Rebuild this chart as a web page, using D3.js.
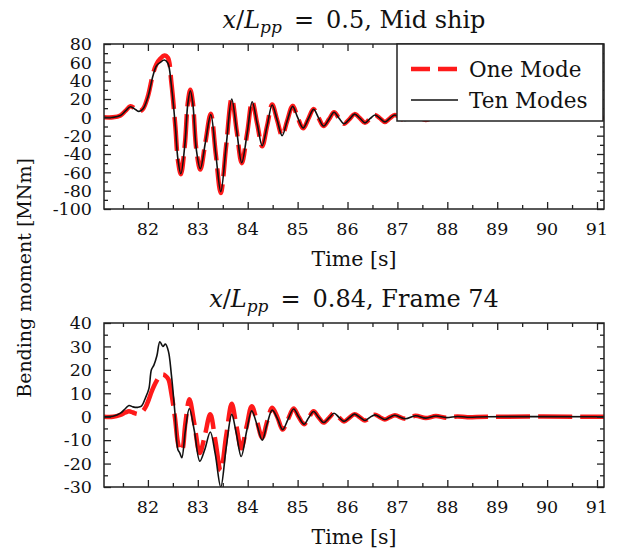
<!DOCTYPE html>
<html>
<head>
<meta charset="utf-8">
<script src="https://cdn.jsdelivr.net/npm/d3@7"></script>
<style>
  body { margin: 0; background: #fff; }
  svg { display: block; }
  text { font-family: "DejaVu Serif", serif; fill: #111; }
</style>
</head>
<body>
<script>
//Data
// mid ship panel: time [s], one mode, ten modes [MNm]
const midTime = [81.12, 81.3, 81.45, 81.55, 81.65, 81.75, 81.82, 81.9, 82.0, 82.1, 82.17, 82.25, 82.33, 82.4, 82.47,
  82.55, 82.6, 82.66, 82.74, 82.8, 82.85, 82.9, 82.97, 83.05, 83.15, 83.26, 83.36, 83.46, 83.57, 83.68,
  83.78, 83.88, 83.99, 84.09, 84.19, 84.29, 84.39, 84.49, 84.59, 84.69, 84.79, 84.9, 85.0, 85.11, 85.22,
  85.32, 85.42, 85.52, 85.63, 85.73, 85.83, 85.93, 86.04, 86.14, 86.25, 86.35, 86.45, 86.55, 86.65, 86.75,
  86.85, 86.95, 87.16, 87.36, 87.57, 87.77, 87.98, 88.2, 88.5, 89.0, 90.0, 91.14];
const midOne = [0, 0, 2, 7, 12, 9, 6.5, 9, 23, 47, 58, 64, 67.5, 65, 38,
  -10, -46, -62, -30, 16, 30, 16, -35, -57, -28, 4, -40, -82.5, -30, 21,
  -15, -50, -17, 17.5, -7, -31.5, -9, 14, -3, -20, -4, 12.5, 0, -12, -1,
  9, -0.5, -9.5, -2, 5.5, -1, -7, -2, 3.5, -1, -6, -1.5, 2.5, -1, -5,
  -1, 2.5, -3.5, 1.5, -3, 1, -2.5, 0.5, -1.5, -1, -0.5, -0.5];
const midTen = [0, 0, 2, 7, 11.5, 8.5, 6.5, 9, 22, 45, 56, 60, 62.5, 59, 35,
  -10, -45, -61.5, -30, 15, 29, 15, -35, -56, -28, 3, -40, -81, -30, 20,
  -15, -49.5, -17, 17, -7, -31, -9, 13.5, -3, -20, -4, 12, 0, -11.5, -1,
  8.7, -0.5, -9.5, -2, 5.5, -1, -7, -2, 3.5, -1, -6, -1.5, 2.5, -1, -5,
  -1, 2.5, -3.5, 1.5, -3, 1, -2.5, 0.5, -1.5, -1, -0.5, -0.5];

// frame 74 panel
const frTime = [81.12, 81.3, 81.45, 81.55, 81.62, 81.7, 81.8, 81.87, 81.95, 82.02, 82.07, 82.12, 82.18, 82.24, 82.3,
  82.35, 82.41, 82.47, 82.54, 82.6, 82.64, 82.68, 82.75, 82.83, 82.93, 83.04, 83.14, 83.25, 83.35, 83.46,
  83.57, 83.68, 83.77, 83.87, 83.98, 84.08, 84.18, 84.29, 84.39, 84.49, 84.6, 84.7, 84.81, 84.92, 85.02,
  85.13, 85.22, 85.32, 85.42, 85.52, 85.63, 85.73, 85.83, 85.93, 86.04, 86.14, 86.25, 86.35, 86.45, 86.55,
  86.65, 86.75, 86.85, 86.95, 87.16, 87.36, 87.57, 87.77, 87.98, 88.2, 88.4, 88.8, 91.14];
const frOne = [0, 0, 0.8, 1.8, 2.3, 1.8, 1.2, 1.8, 4, 7.5, 10.5, 13, 15.5, 17.5, 18,
  17.5, 16, 10, 0, -11, -14, -14.5, -3, 7.5, -3, -15.5, -8, 1, -10, -23,
  -8, 5.5, -3.5, -13.5, -4, 4.5, -1.5, -9, -2, 3.8, -0.5, -5.5, -1, 3.5, 0,
  -3.2, -0.5, 2.3, -0.2, -2.5, -0.5, 1.5, -0.3, -2, -0.4, 1.1, -0.3, -1.6, -0.3, 0.8,
  -0.2, -1.2, -0.2, 0.6, -0.9, 0.4, -0.6, 0.3, -0.4, 0.1, -0.2, 0, 0];
const frTen = [0, 0.2, 1.5, 3.5, 4.8, 4.2, 4, 4.5, 8, 12, 20, 22, 26, 32, 30,
  31, 28, 18, 2, -14, -15.5, -17.5, -6, 3.5, -6, -19, -14, -6.5, -16, -30,
  -13, 1, -7, -17, -6, 2.5, -3, -10, -3, 2.8, -1, -5.5, -1, 3.3, 0,
  -3.2, -0.5, 2.2, -0.2, -2.5, -0.5, 1.5, -0.3, -2, -0.4, 1.1, -0.3, -1.6, -0.3, 0.8,
  -0.2, -1.2, -0.2, 0.6, -0.9, 0.4, -0.6, 0.3, -0.4, 0.1, -0.2, 0, 0];

// ticks
const xTicks = [82, 83, 84, 85, 86, 87, 88, 89, 90, 91];
const xMinor = [81.5, 82.5, 83.5, 84.5, 85.5, 86.5, 87.5, 88.5, 89.5, 90.5];
const midTicks = [-100, -80, -60, -40, -20, 0, 20, 40, 60, 80];
const midMinor = [-90, -70, -50, -30, -10, 10, 30, 50, 70];
const frTicks = [-30, -20, -10, 0, 10, 20, 30, 40];
const frMinor = [-25, -15, -5, 5, 15, 25, 35];

const legendNames = ['One Mode', 'Ten Modes'];

// Create SVG
let
  width = 618,
  height = 554;

let margin = {
  left: 104,
  right: 14
};

let svg = d3
  .select('body')
  .append('svg')
    .attr('width', width)
    .attr('height', height);

let xScale = d3.scaleLinear()
  .domain([81.12, 91.14])
  .range([margin.left, width - margin.right]);

function panel(top, bottom, yDomain, yTicks, yMinor, time, one, ten, title, sub, rest) {
  let yScale = d3.scaleLinear()
    .domain(yDomain)
    .range([bottom, top]);

  let g = svg.append('g');

  let clipId = 'clip' + top;
  g.append('clipPath')
      .attr('id', clipId)
    .append('rect')
      .attr('x', margin.left)
      .attr('y', top)
      .attr('width', width - margin.right - margin.left)
      .attr('height', bottom - top);

  let line = d3.line()
    .x((d, i) => xScale(time[i]))
    .y(d => yScale(d))
    .curve(d3.curveCatmullRom.alpha(0.5));

  //red dashed one-mode curve, black ten-mode curve on top
  g.append('path')
      .attr('clip-path', `url(#${clipId})`)
      .attr('d', line(one))
      .attr('fill', 'none')
      .attr('stroke', '#ff1a1a')
      .attr('stroke-width', 4.5)
      .attr('stroke-dasharray', '34,8');

  g.append('path')
      .attr('clip-path', `url(#${clipId})`)
      .attr('d', line(ten))
      .attr('fill', 'none')
      .attr('stroke', '#111')
      .attr('stroke-width', 1.6);

  //Draw Axes (ticks inside, mirrored)
  let axes = [
    [d3.axisBottom(xScale), `translate(0,${bottom})`, xTicks, xMinor],
    [d3.axisTop(xScale), `translate(0,${top})`, xTicks, xMinor],
    [d3.axisLeft(yScale), `translate(${margin.left},0)`, yTicks, yMinor],
    [d3.axisRight(yScale), `translate(${width - margin.right},0)`, yTicks, yMinor]
  ];
  axes.forEach(function(a) {
    g.append('g')
        .attr('transform', a[1])
        .call(a[0].tickValues(a[2]).tickSize(-7).tickFormat(''))
        .call(s => s.select('.domain').remove());
    g.append('g')
        .attr('transform', a[1])
        .call(a[0].tickValues(a[3]).tickSize(-4).tickFormat(''))
        .call(s => s.select('.domain').remove());
  });
  g.selectAll('.tick line')
      .attr('stroke', '#222')
      .attr('stroke-width', 1.3);

  //tick labels
  g.selectAll('.xlab')
      .data(xTicks)
    .enter()
    .append('text')
      .attr('x', d => xScale(d))
      .attr('y', bottom + 26)
      .attr('text-anchor', 'middle')
      .style('font-size', '17.5px')
      .text(d => d);

  g.selectAll('.ylab')
      .data(yTicks)
    .enter()
    .append('text')
      .attr('x', margin.left - 12)
      .attr('y', d => yScale(d))
      .attr('dy', '0.36em')
      .attr('text-anchor', 'end')
      .style('font-size', '17.5px')
      .text(d => d < 0 ? '-' + Math.abs(d) : d);

  //frame
  g.append('rect')
      .attr('x', margin.left)
      .attr('y', top)
      .attr('width', width - margin.right - margin.left)
      .attr('height', bottom - top)
      .attr('fill', 'none')
      .attr('stroke', '#222')
      .attr('stroke-width', 1.5);

  //Add label
  g.append('text')
      .attr('x', (margin.left + width - margin.right) / 2)
      .attr('y', bottom + 57)
      .attr('text-anchor', 'middle')
      .style('font-size', '20.5px')
      .text('Time [s]');

  let t = g.append('text')
      .attr('x', (margin.left + width - margin.right) / 2)
      .attr('y', top - 16)
      .attr('text-anchor', 'middle')
      .style('font-size', '24px');
  t.append('tspan').style('font-style', 'italic').text('x');
  t.append('tspan').text('/');
  t.append('tspan').style('font-style', 'italic').text('L');
  t.append('tspan').style('font-style', 'italic').style('font-size', '17px').attr('dy', 5).text(sub);
  t.append('tspan').attr('dy', -5).text('\u2002=\u2002' + rest);
  t.append('tspan').text(title);

  return yScale;
}

panel(44, 209, [-100, 80], midTicks, midMinor, midTime, midOne, midTen, ', Mid ship', 'pp', '0.5');
panel(323, 487, [-30, 40], frTicks, frMinor, frTime, frOne, frTen, ', Frame 74', 'pp', '0.84');

//legend
let leg = svg.append('g');
leg.append('rect')
    .attr('x', 397)
    .attr('y', 44)
    .attr('width', 206)
    .attr('height', 77)
    .attr('fill', '#fff')
    .attr('stroke', '#222')
    .attr('stroke-width', 1.5);

leg.selectAll('.item')
    .data(legendNames)
  .enter()
  .append('line')
    .attr('x1', 411)
    .attr('x2', 458)
    .attr('y1', (d, i) => 69 + i * 31)
    .attr('y2', (d, i) => 69 + i * 31)
    .attr('stroke', (d, i) => i == 0 ? '#ff1a1a' : '#111')
    .attr('stroke-width', (d, i) => i == 0 ? 4.5 : 1.6)
    .attr('stroke-dasharray', (d, i) => i == 0 ? '19,8' : null);

leg.selectAll('.name')
    .data(legendNames)
  .enter()
  .append('text')
    .attr('x', 469)
    .attr('y', (d, i) => 69 + i * 31)
    .attr('dy', '0.36em')
    .style('font-size', '21.5px')
    .text(d => d);

//y label
svg.append('text')
    .attr('transform', 'translate(31,278) rotate(-90)')
    .attr('text-anchor', 'middle')
    .style('font-size', '19px')
    .text('Bending moment [MNm]');
</script>
</body>
</html>
